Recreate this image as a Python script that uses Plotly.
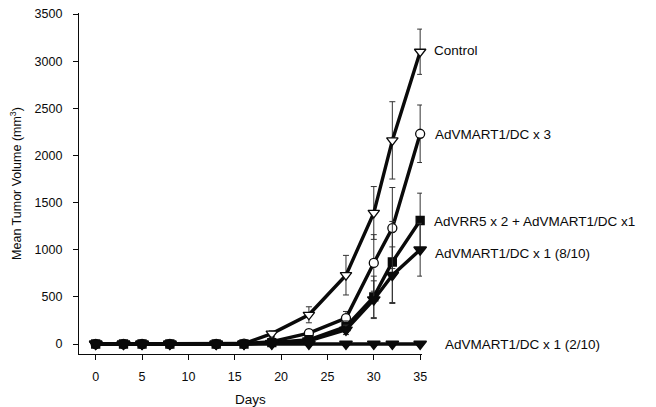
import plotly.graph_objects as go

days = [0, 3, 5, 8, 13, 16, 19, 23, 27, 30, 32, 35]

control = [0, 0, 0, 0, 0, 5, 110, 310, 730, 1390, 2160, 3100]
control_err = [0, 0, 0, 0, 0, 0, 30, 85, 210, 280, 410, 240]

mart_x3 = [0, 0, 0, 0, 0, 3, 25, 115, 275, 860, 1230, 2230]
mart_x3_err = [0, 0, 0, 0, 0, 0, 10, 40, 70, 300, 430, 305]

rr5_mart = [0, 0, 0, 0, 0, 0, 15, 45, 185, 500, 870, 1310]
rr5_mart_err = [0, 0, 0, 0, 0, 0, 5, 20, 60, 220, 430, 290]

mart_x1_8 = [0, 0, 0, 0, 0, 0, 10, 35, 150, 470, 730, 1000]
mart_x1_8_err = [0, 0, 0, 0, 0, 0, 5, 15, 50, 200, 300, 280]

mart_x1_2 = [0, 0, 0, 0, 0, 0, 0, 0, 0, 0, 0, 0]

labels = ["Control", "AdVMART1/DC x 3", "AdVRR5 x 2 + AdVMART1/DC x1",
          "AdVMART1/DC x 1 (8/10)", "AdVMART1/DC x 1 (2/10)"]

FONT = "Liberation Sans, Arial, sans-serif"
INK = "#0a0a0a"

fig = go.Figure()

def add(y, err, symbol, fill, size, name):
    fig.add_trace(go.Scatter(
        x=days, y=y, mode="lines+markers", name=name,
        line=dict(color=INK, width=3.4),
        marker=dict(symbol=symbol, size=size, color=fill,
                    line=dict(color=INK, width=1.3)),
        error_y=(dict(type="data", array=err, visible=True, color="#333333",
                      thickness=1, width=3) if err is not None else None),
        cliponaxis=False,
    ))

add(control, control_err, "triangle-down", "white", 10, labels[0])
add(mart_x3, mart_x3_err, "circle", "white", 9, labels[1])
add(rr5_mart, rr5_mart_err, "square", INK, 8, labels[2])
add(mart_x1_8, mart_x1_8_err, "triangle-down", INK, 11, labels[3])
add(mart_x1_2, None, "triangle-down", INK, 11, labels[4])

# label positions: x in paper fraction, y in data units
label_pos = [
    (1.032, 3110),
    (1.035, 2225),
    (1.032, 1300),
    (1.035, 965),
    (1.064, 0),
]
for txt, (lx, ly) in zip(labels, label_pos):
    fig.add_annotation(x=lx, y=ly, xref="paper", yref="y", text=txt,
                       showarrow=False, xanchor="left", yanchor="middle",
                       borderpad=0,
                       font=dict(family=FONT, size=13.5, color=INK))

# the page body has an 8px margin; size the figure so it fills the window
fig.update_layout(
    width=648, height=399,
    margin=dict(l=71, r=234, t=5, b=53),
    plot_bgcolor="white", paper_bgcolor="white",
    showlegend=False,
    font=dict(family=FONT, size=12, color=INK),
)
fig.update_xaxes(
    range=[-1.8, 35.2], tickvals=[0, 5, 10, 15, 20, 25, 30, 35],
    showgrid=False, zeroline=False, showline=True, linecolor=INK, linewidth=1.3,
    ticks="outside", ticklen=5, tickcolor=INK, ticklabelstandoff=6,
    ticklabeloverflow="allow",
    tickfont=dict(family=FONT, size=12.5, color=INK), automargin=False,
    title=dict(text="Days", font=dict(family=FONT, size=13.5, color=INK), standoff=12),
)
fig.update_yaxes(
    range=[-106, 3511], tickvals=[0, 500, 1000, 1500, 2000, 2500, 3000, 3500],
    showgrid=False, zeroline=False, showline=True, linecolor=INK, linewidth=1.3,
    ticks="outside", ticklen=5, tickcolor=INK, ticklabelstandoff=8,
    ticklabeloverflow="allow",
    tickfont=dict(family=FONT, size=12.5, color=INK), automargin=False,
    title=dict(text="Mean Tumor Volume (mm<sup>3</sup>)",
               font=dict(family=FONT, size=12.5, color=INK), standoff=11),
)

fig.write_html("out.html")
